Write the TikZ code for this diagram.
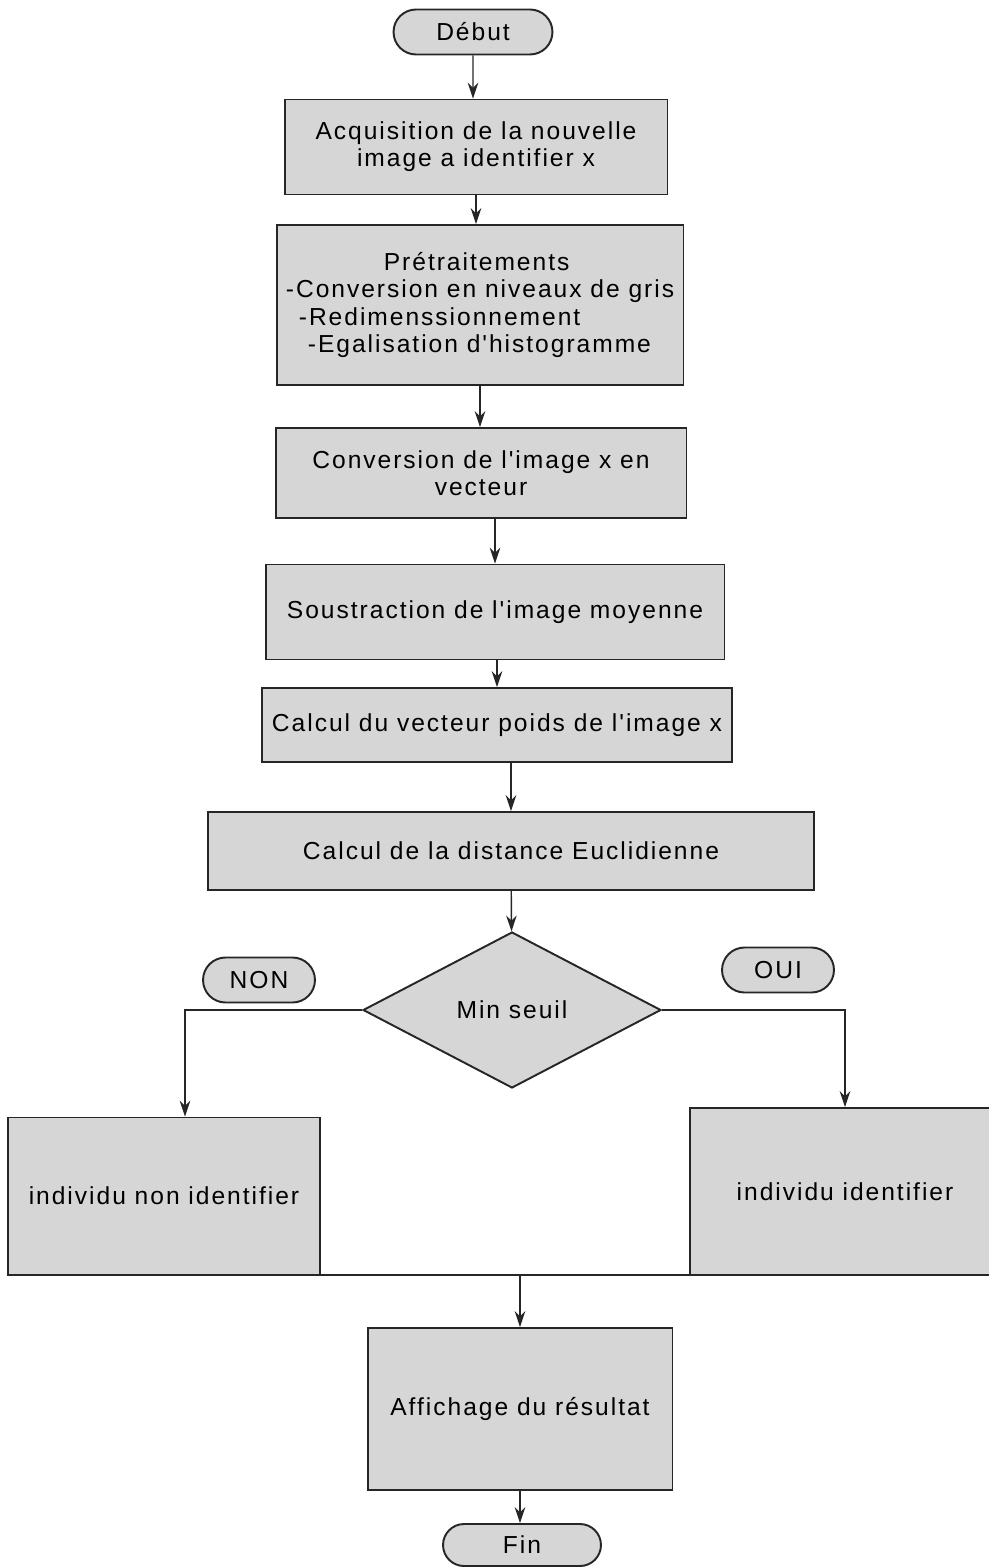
\documentclass[tikz,border=0pt]{standalone}
\usepackage{fontspec}
\setmainfont{Liberation Sans}[LetterSpace=8, Ligatures=TeXOff]
\usetikzlibrary{shapes.geometric,shapes.misc,arrows.meta}
\begin{document}
\begin{tikzpicture}[x=0.02cm,y=-0.02cm,
  box/.style={draw=black!85, line width=1.1pt, fill=black!16, align=center, inner sep=2pt,
    font=\fontsize{14}{15.4}\selectfont},
  pill/.style={box, rounded rectangle},
  flow/.style={-{Stealth[length=9pt,width=6pt]}, line width=0.8pt, draw=black!85}]
\useasboundingbox (0,0) rectangle (989,1567);

% main sequence
\node[pill, minimum width=3.32cm, minimum height=0.9cm] (debut) at (473,32) {Début};
\node[box, minimum width=7.66cm, minimum height=1.9cm] (acq) at (476,147)
  {Acquisition de la nouvelle\\image a identifier x};
\node[box, minimum width=8.14cm, minimum height=3.2cm, align=left] (pre) at (480,305)
  {\hspace*{1.96cm}Prétraitements\\
   -Conversion en niveaux de gris\\
   \hspace*{0.26cm}-Redimenssionnement\\
   \hspace*{0.44cm}-Egalisation d'histogramme};
\node[box, minimum width=8.22cm, minimum height=1.8cm] (conv) at (481,473)
  {Conversion de l'image x en\\vecteur};
\node[box, minimum width=9.18cm, minimum height=1.9cm] (sous) at (495,612)
  {Soustraction de l'image moyenne};
\node[box, minimum width=9.4cm, minimum height=1.48cm] (poids) at (497,725)
  {Calcul du vecteur poids de l'image x};
\node[box, minimum width=12.14cm, minimum height=1.56cm] (dist) at (511,851)
  {Calcul de la distance Euclidienne};

% decision
\node[box, diamond, aspect=1.91, minimum width=5.96cm, minimum height=3.12cm, inner sep=0pt]
  (seuil) at (512,1010) {Min seuil};
\node[pill, minimum width=2.38cm, minimum height=0.9cm] (non) at (259,980) {NON};
\node[pill, minimum width=2.38cm, minimum height=0.9cm] (oui) at (778,970) {OUI};

% outcomes
\node[box, minimum width=6.24cm, minimum height=3.14cm] (nid) at (164,1196)
  {individu non identifier};
\node[box, minimum width=6.2cm, minimum height=3.34cm] (id) at (845,1191.5)
  {individu identifier};
\coordinate (busL) at (7,1275);
\coordinate (busR) at (989,1275);
\draw[line width=1.3pt, black!85] (busL) -- (busR);

\node[box, minimum width=6.1cm, minimum height=3.24cm] (aff) at (520,1409)
  {Affichage du résultat};
\node[pill, minimum width=3.3cm, minimum height=0.84cm] (fin) at (522,1545) {Fin};

% connectors
\draw[flow] (debut) -- (debut |- acq.north);
\draw[flow] (acq) -- (acq |- pre.north);
\draw[flow] (pre) -- (pre |- conv.north);
\draw[flow] (conv.south -| sous) -- (sous);
\draw[flow] (sous.south -| poids) -- (poids);
\draw[flow] (poids.south -| dist) -- (dist);
\draw[flow] (dist) -- (seuil);
\draw[flow] (seuil.west) -| ([xshift=0.42cm]nid.north);
\draw[flow] (seuil.east) -| (id.north);
\draw[flow] (aff.north |- busL) -- (aff);
\draw[flow] (aff) -- (aff |- fin.north);
\end{tikzpicture}
\end{document}
